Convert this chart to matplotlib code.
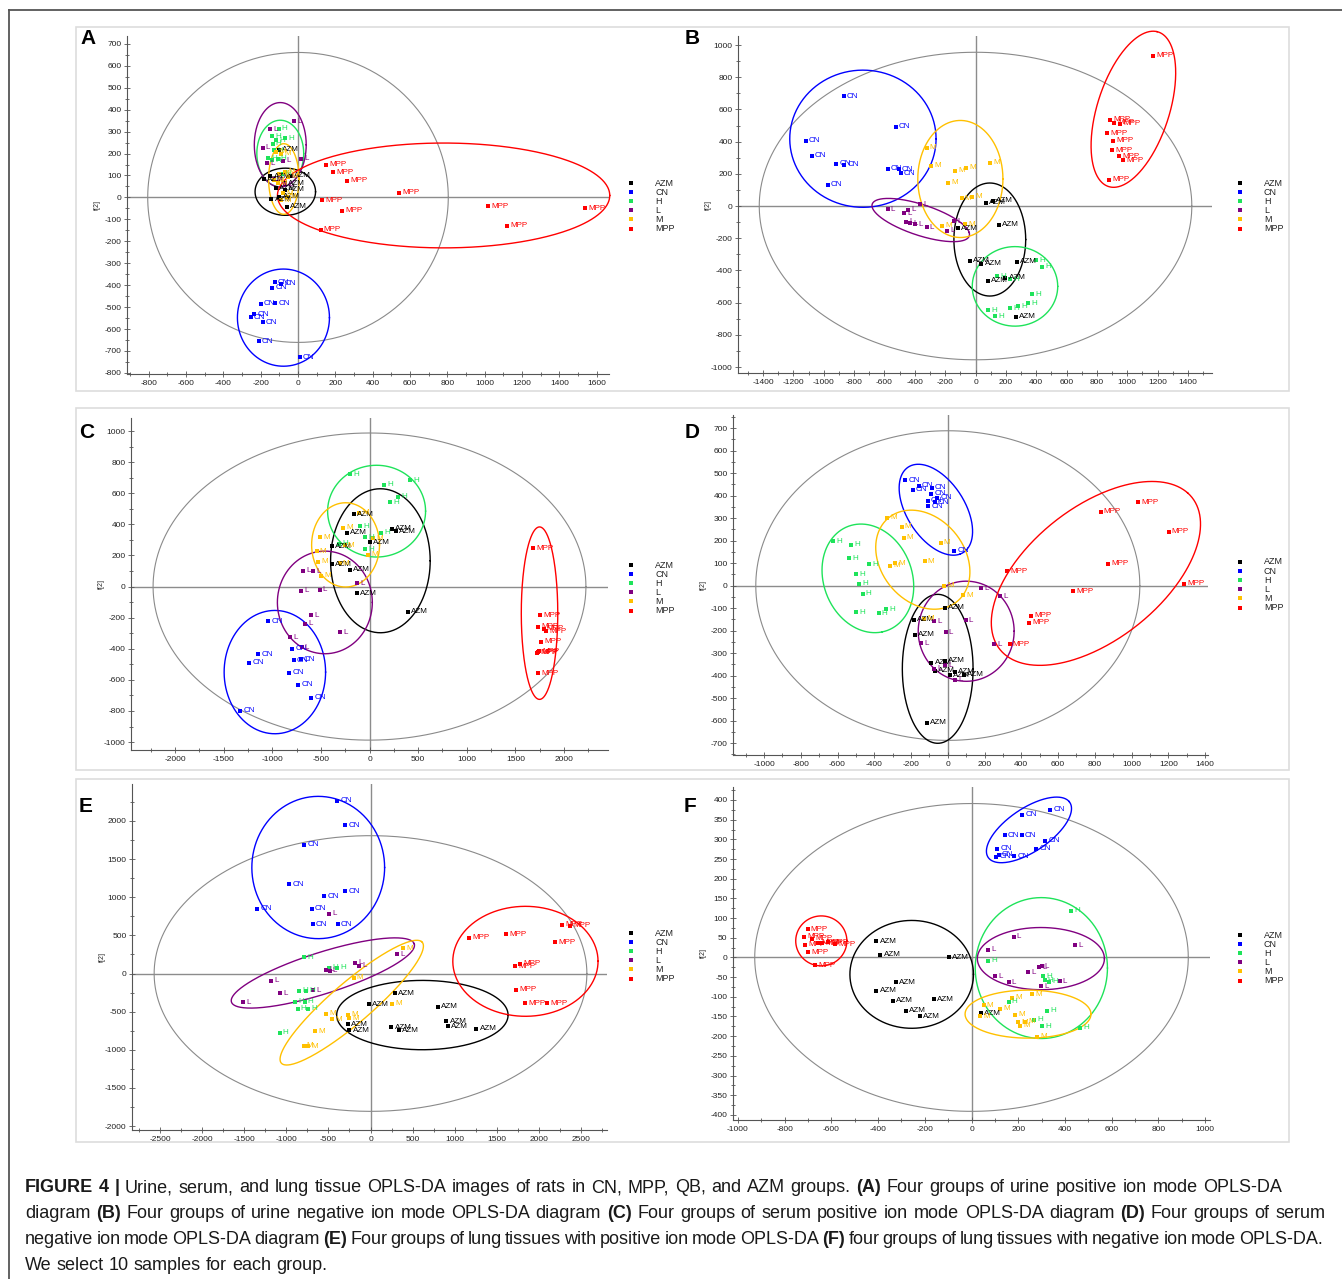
import numpy as np
import matplotlib
matplotlib.use("Agg")
import matplotlib.pyplot as plt
from matplotlib.ticker import MultipleLocator
from matplotlib.lines import Line2D
from matplotlib.patches import Rectangle

plt.rcParams['font.family'] = ['Liberation Sans', 'DejaVu Sans']
plt.rcParams['axes.unicode_minus'] = False

GROUPS = ["AZM", "CN", "H", "L", "M", "MPP"]
COLORS = {"AZM": "#000000", "CN": "#0000ff", "H": "#1ee35a",
          "L": "#800080", "M": "#ffc000", "MPP": "#ff0000"}


def upright(cx, cy, w, h):
    return (cx, cy, w / 2, 0, 0, h / 2)


# ---- panel A: urine, positive ion mode
A_AZM = [(-148, 97), (-182, 83), (-119, 41), (-71, 36), (-142, -9), (-58, -42), (-104, 218), (-36, 98), (-71, 64), (-100, 3)]
A_CN = [(-125, -386), (-90, -394), (-138, -411), (-199, -485), (-123, -482), (-234, -532), (-253, -547), (-190, -570), (-211, -656), (10, -729)]
A_H = [(-104, 312), (-138, 280), (-71, 270), (-119, 261), (-136, 245), (-161, 179), (-138, 170), (-109, 177), (-128, 215), (-84, 109)]
A_L = [(-23, 348), (-148, 311), (-190, 227), (-80, 167), (15, 176), (-52, 94), (-109, 71), (-71, 61), (-128, 86), (-167, 155)]
A_M = [(-119, 208), (-90, 200), (-100, 109), (-71, 117), (-52, 94), (-81, 18), (-61, 3), (-109, 64), (-90, -12), (-128, 79)]
A_MPP = [(150, 150), (188, 115), (265, 77), (542, 21), (130, -12), (236, -61), (121, -148), (1018, -41), (1121, -130), (1539, -50)]
A_RINGS = {"AZM": upright(-68, 26, 324, 215), "CN": upright(-78, -548, 493, 443),
           "H": upright(-95, 200, 251, 304), "L": upright(-95, 240, 278, 385),
           "M": upright(-76, 84, 163, 322), "MPP": upright(780, 9, 1780, 478)}
A_T2 = (1610, 1322)

# ---- panel B: urine, negative ion mode
B_AZM = [(67, 21), (117, 33), (154, -116), (-117, -137), (-37, -341), (39, -358), (273, -345), (197, -445), (84, -464), (268, -688)]
B_CN = [(-869, 682), (-527, 491), (-1118, 405), (-1080, 312), (-917, 264), (-867, 256), (-580, 233), (-507, 229), (-492, 204), (-975, 131)]
B_H = [(399, -337), (436, -378), (142, -435), (230, -455), (373, -549), (348, -603), (280, -622), (230, -636), (84, -647), (127, -684)]
B_L = [(-580, -21), (-469, -46), (-444, -23), (-366, 12), (-457, -98), (-399, -112), (-323, -133), (-188, -154), (-142, -96), (-431, -108)]
B_M = [(-323, 362), (-293, 249), (-137, 220), (-62, 239), (97, 268), (-180, 146), (-92, 48), (-21, 58), (-218, -121), (-67, -112)]
B_MPP = [(1171, 933), (889, 536), (914, 516), (952, 511), (869, 453), (904, 405), (899, 345), (944, 308), (972, 283), (879, 164)]
B_RINGS = {"AZM": upright(94, -208, 473, 702), "CN": upright(-742, 418, 964, 852),
           "H": upright(260, -499, 563, 494), "L": (-361, -87, 319, -77, -38, 110),
           "M": upright(-100, 168, 561, 727), "MPP": (1040, 601, 156, 482, 231, -52)}
B_T2 = (2850, 1910)

# ---- panel C: serum, positive ion mode
C_AZM = [(-162, 464), (-231, 346), (-389, 258), (0, 286), (231, 372), (275, 357), (-389, 142), (-198, 108), (-129, -42), (393, -162)]
C_CN = [(-1040, -224), (-1147, -434), (-1234, -490), (-797, -400), (-779, -473), (-709, -468), (-823, -554), (-734, -633), (-602, -715), (-1329, -799)]
C_H = [(-198, 721), (154, 655), (415, 683), (290, 578), (209, 543), (-99, 389), (121, 346), (-44, 316), (-48, 239), (-312, 275)]
C_L = [(-679, 102), (-580, 98), (-705, -26), (-514, -20), (-129, 22), (-602, -183), (-661, -239), (-815, -325), (-698, -389), (-305, -295)]
C_M = [(-103, 475), (-275, 378), (-510, 316), (-544, 228), (-525, 160), (-496, 68), (-308, 149), (-11, 203), (37, 312), (-257, 265)]
C_MPP = [(1686, 248), (1752, -185), (1734, -258), (1790, -271), (1812, -286), (1761, -355), (1732, -421), (1746, -417), (1724, -426), (1734, -556)]
C_RINGS = {"AZM": upright(112, 166, 1024, 926), "CN": upright(-973, -550, 1043, 793),
           "H": upright(73, 485, 1007, 590), "L": upright(-459, -102, 976, 660),
           "M": upright(-246, 268, 698, 542), "MPP": upright(1748, -171, 375, 1109)}
C_T2 = (4450, 1975)

# ---- panel D: serum, negative ion mode
D_AZM = [(-14, -98), (-186, -152), (-179, -218), (-14, -335), (-89, -342), (-72, -379), (37, -384), (12, -398), (87, -396), (-113, -610)]
D_CN = [(-233, 469), (-190, 426), (-159, 444), (-87, 435), (-91, 409), (-109, 378), (-58, 390), (-72, 370), (-107, 352), (35, 154)]
D_H = [(-625, 196), (-526, 182), (-538, 122), (-427, 94), (-497, 50), (-485, 8), (-464, -36), (-499, -118), (-377, -122), (-336, -106)]
D_L = [(179, -11), (285, -48), (97, -154), (-76, -159), (-12, -208), (-146, -257), (250, -261), (-74, -369), (41, -418), (-14, -355)]
D_M = [(-330, 302), (-252, 261), (-241, 212), (-39, 190), (-126, 109), (-285, 100), (-315, 89), (-19, -1), (82, -42), (-130, -147)]
D_MPP = [(1037, 370), (831, 329), (1202, 240), (872, 97), (322, 64), (680, -26), (1287, 7), (453, -135), (443, -165), (336, -260)]
D_RINGS = {"AZM": upright(-55, -370, 385, 662), "CN": (-65, 337, 132, -197, 150, 45),
           "H": (-435, 32, 78, -238, 237, 40), "L": upright(100, -203, 522, 445),
           "M": (-136, 115, 144, -207, 212, 75), "MPP": (806, 54, 499, 358, 274, -197)}
D_T2 = (2090, 1376)

# ---- panel E: lung tissue, positive ion mode
E_AZM = [(294, -260), (-23, -400), (799, -439), (901, -627), (922, -692), (248, -705), (333, -744), (-265, -666), (-252, -744), (1258, -727)]
E_CN = [(-393, 2266), (-299, 1943), (-787, 1686), (-965, 1169), (-299, 1076), (-553, 1011), (-1347, 846), (-698, 846), (-685, 649), (-388, 649)]
E_H = [(-791, 216), (-490, 77), (-396, 77), (-846, -229), (-761, -229), (-893, -373), (-782, -373), (-867, -465), (-744, -465), (-1081, -780)]
E_L = [(320, 251), (-188, 138), (-138, 103), (-528, 50), (-486, 33), (-1177, -98), (-1075, -256), (-685, -221), (-1511, -378), (-490, 785)]
E_M = [(384, 334), (-201, -55), (261, -396), (-528, -527), (-456, -601), (-269, -540), (-252, -584), (-659, -759), (-795, -947), (-744, -956)]
E_MPP = [(1173, 470), (1610, 518), (2280, 640), (2373, 623), (2195, 409), (1772, 125), (1721, 98), (1734, -212), (1836, -387), (2099, -387)]
E_RINGS = {"AZM": upright(616, -545, 2036, 909), "CN": upright(-621, 1390, 1577, 1866),
           "L": (-566, 7, 1086, 380, 70, -260), "M": (-223, -382, 830, 800, 190, -170),
           "MPP": upright(1840, 160, 1725, 1442)}
E_T2 = (5140, 3615)

# ---- panel F: lung tissue, negative ion mode
F_AZM = [(-407, 41), (-390, 7), (-97, 0), (-323, -63), (-407, -85), (-338, -110), (-161, -106), (-280, -135), (-220, -149), (41, -142)]
F_CN = [(336, 375), (218, 362), (143, 311), (215, 311), (316, 297), (277, 276), (110, 276), (116, 261), (107, 256), (182, 257)]
F_H = [(426, 119), (72, -8), (308, -48), (313, -58), (159, -113), (323, -135), (267, -158), (302, -175), (464, -179), (331, -62)]
F_L = [(180, 53), (443, 31), (70, 20), (290, -25), (300, -22), (244, -37), (102, -48), (159, -63), (377, -60), (297, -73)]
F_M = [(175, -102), (259, -94), (52, -122), (121, -130), (36, -149), (185, -146), (198, -165), (231, -163), (208, -174), (282, -201)]
F_MPP = [(-702, 71), (-715, 53), (-684, 47), (-711, 32), (-656, 37), (-615, 38), (-584, 34), (-698, 13), (-669, -20), (-639, 36)]
F_RINGS = {"AZM": upright(-256, -43, 529, 274), "CN": (246, 324, 172, 72, 60, -42),
           "H": upright(299, -27, 566, 358), "L": upright(297, -3, 544, 158),
           "M": upright(242, -144, 539, 122), "MPP": upright(-643, 42, 219, 127)}
F_T2 = (1856, 782)

CAPTION = [
    [("FIGURE 4 |", True), (" Urine, serum, and lung tissue OPLS-DA images of rats in CN, MPP, QB, and AZM groups. ", False),
     ("(A)", True), (" Four groups of urine positive ion mode OPLS-DA", False)],
    [("diagram ", False), ("(B)", True), (" Four groups of urine negative ion mode OPLS-DA diagram ", False), ("(C)", True),
     (" Four groups of serum positive ion mode OPLS-DA diagram ", False), ("(D)", True), (" Four groups of serum", False)],
    [("negative ion mode OPLS-DA diagram ", False), ("(E)", True),
     (" Four groups of lung tissues with positive ion mode OPLS-DA ", False), ("(F)", True),
     (" four groups of lung tissues with negative ion mode OPLS-DA.", False)],
    [("We select 10 samples for each group.", False)],
]

# layout (pixels of the 1342x1279 canvas)
PANELS = [
    dict(letter="A", data=dict(AZM=A_AZM, CN=A_CN, H=A_H, L=A_L, M=A_M, MPP=A_MPP), rings=A_RINGS, t2=A_T2,
         rect=(127, 36, 609, 374), xlim=(-916, 1666), ylim=(-805, 736), xs=(200, 100), ys=(100, 50),
         leg=(631, 183), lab=(88, 39)),
    dict(letter="B", data=dict(AZM=B_AZM, CN=B_CN, H=B_H, L=B_L, M=B_M, MPP=B_MPP), rings=B_RINGS, t2=B_T2,
         rect=(738, 36, 1212, 373), xlim=(-1565, 1558), ylim=(-1037, 1056), xs=(200, 100), ys=(200, 100),
         leg=(1240, 183), lab=(692, 39)),
    dict(letter="C", data=dict(AZM=C_AZM, CN=C_CN, H=C_H, L=C_L, M=C_M, MPP=C_MPP), rings=C_RINGS, t2=C_T2,
         rect=(131, 418, 608, 750), xlim=(-2452, 2452), ylim=(-1051, 1084), xs=(500, 250), ys=(200, 100),
         leg=(631, 565), lab=(87, 433)),
    dict(letter="D", data=dict(AZM=D_AZM, CN=D_CN, H=D_H, L=D_L, M=D_M, MPP=D_MPP), rings=D_RINGS, t2=D_T2,
         rect=(733, 415, 1208, 755), xlim=(-1169, 1416), ylim=(-753, 758), xs=(200, 100), ys=(100, 50),
         leg=(1240, 562), lab=(692, 433)),
    dict(letter="E", data=dict(AZM=E_AZM, CN=E_CN, H=E_H, L=E_L, M=E_M, MPP=E_MPP), rings=E_RINGS, t2=E_T2,
         rect=(132, 784, 607, 1130), xlim=(-2833, 2809), ylim=(-2052, 2485), xs=(500, 250), ys=(500, 250),
         leg=(631, 933), lab=(86, 807)),
    dict(letter="F", data=dict(AZM=F_AZM, CN=F_CN, H=F_H, L=F_L, M=F_M, MPP=F_MPP), rings=F_RINGS, t2=F_T2,
         rect=(733, 787, 1210, 1120), xlim=(-1021, 1021), ylim=(-413, 433), xs=(200, 100), ys=(50, 25),
         leg=(1240, 935), lab=(690, 807)),
]

W, H = 1342, 1279
fig = plt.figure(figsize=(W / 100, H / 100), dpi=100)


def fx(x):
    return x / W


def fy(y):
    return 1 - y / H


def ring(ax, params, color, lw):
    cx, cy, ux, uy, vx, vy = params
    t = np.linspace(0, 2 * np.pi, 400)
    ax.plot(cx + ux * np.cos(t) + vx * np.sin(t), cy + uy * np.cos(t) + vy * np.sin(t),
            color=color, lw=lw, clip_on=False)


# page border and row frames
fig.add_artist(Line2D([fx(9), 1], [fy(10), fy(10)], color="#555555", lw=1.3))
fig.add_artist(Line2D([fx(9), fx(9)], [fy(10), 0], color="#555555", lw=1.3))
for top, bot in [(27, 391), (408, 770), (779, 1142)]:
    fig.add_artist(Rectangle((fx(76), fy(bot)), fx(1289) - fx(76), fy(top) - fy(bot),
                             transform=fig.transFigure, fill=False, ec="#dddddd", lw=1.2))

for p in PANELS:
    l, t, r, b = p["rect"]
    ax = fig.add_axes([fx(l), fy(b), fx(r) - fx(l), fy(t) - fy(b)])
    ax.patch.set_alpha(0)
    ax.set_xlim(p["xlim"])
    ax.set_ylim(p["ylim"])
    for s in ["top", "right"]:
        ax.spines[s].set_visible(False)
    for s in ["left", "bottom"]:
        ax.spines[s].set_color("#555555")
        ax.spines[s].set_linewidth(0.8)
    ax.xaxis.set_major_locator(MultipleLocator(p["xs"][0]))
    ax.xaxis.set_minor_locator(MultipleLocator(p["xs"][1]))
    ax.yaxis.set_major_locator(MultipleLocator(p["ys"][0]))
    ax.yaxis.set_minor_locator(MultipleLocator(p["ys"][1]))
    ax.tick_params(which="both", direction="inout", color="#555555", width=0.6,
                   labelsize=6, labelcolor="#222222", pad=2)
    ax.tick_params(which="major", length=4)
    ax.tick_params(which="minor", length=3)

    ring(ax, upright(0, 0, *p["t2"]), "#8a8a8a", 0.8)
    ax.axhline(0, color="#8c8c8c", lw=1.0, zorder=1)
    ax.axvline(0, color="#8c8c8c", lw=1.0, zorder=1)

    for g in GROUPS:
        if g in p["rings"]:
            ring(ax, p["rings"][g], COLORS[g], 1.0)

    for g in GROUPS:
        pts = p["data"][g]
        xs, ys = zip(*pts)
        ax.plot(xs, ys, "s", ms=3.2, mew=0, color=COLORS[g], clip_on=False, zorder=3)
        for x, y in pts:
            ax.annotate(g, (x, y), xytext=(2.3, 0), textcoords="offset points", fontsize=5.8,
                        color=COLORS[g], ha="left", va="center", annotation_clip=False, zorder=4)

    lx, ly = p["leg"]
    for i, g in enumerate(GROUPS):
        yy = ly + i * 9.1
        fig.add_artist(Line2D([fx(lx)], [fy(yy)], marker="s", ms=3, mew=0, lw=0,
                              color=COLORS[g], transform=fig.transFigure))
        fig.text(fx(lx + 24), fy(yy), g, fontsize=6.5, color="#222222", ha="left", va="center")

    fig.text(fx(p["lab"][0]), fy(p["lab"][1]), p["letter"], fontsize=15, weight="bold",
             ha="center", va="center")
    fig.text(fx(l - 30), fy((t + b) / 2), "t[2]", rotation=90, fontsize=5,
             ha="center", va="center", color="#222222")

# caption, placed word by word
renderer = fig.canvas.get_renderer()
CAP_SIZE = 13
cap_y = [1188, 1214, 1240, 1265]
cap_end = [1282, 1325, 1323, None]
for segs, yy, end in zip(CAPTION, cap_y, cap_end):
    words = []
    for text, bold in segs:
        for w in text.split():
            words.append((w, bold))
    widths = []
    for w, bold in words:
        tt = fig.text(0, 0, w, fontsize=CAP_SIZE, weight="bold" if bold else "normal")
        widths.append(tt.get_window_extent(renderer).width)
        tt.remove()
    space = 0.278 * CAP_SIZE * 100 / 72
    if end is not None and len(words) > 1:
        space = max((end - 25 - sum(widths)) / (len(words) - 1), 2.0)
    x = 25
    for (w, bold), wd in zip(words, widths):
        fig.text(fx(x), fy(yy), w, fontsize=CAP_SIZE, weight="bold" if bold else "normal",
                 color="#1a1a1a", ha="left", va="center")
        x += wd + space

fig.savefig("out.png", dpi=100)
